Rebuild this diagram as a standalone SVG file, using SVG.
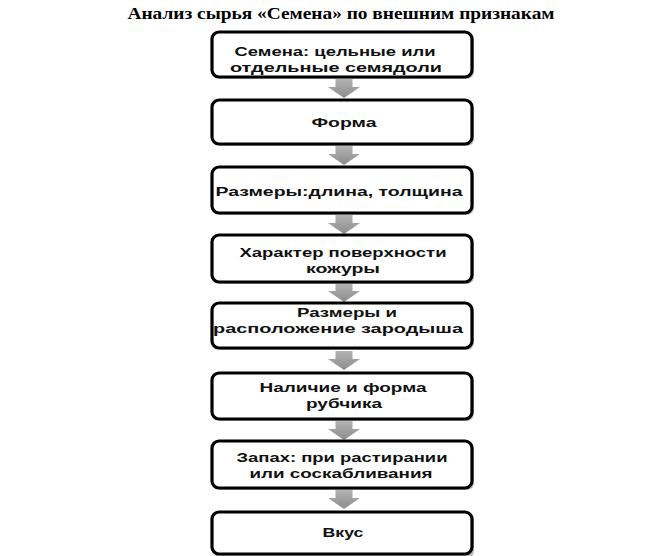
<svg xmlns="http://www.w3.org/2000/svg" width="651" height="556" viewBox="0 0 651 556">
<defs>
<linearGradient id="ag" x1="0" y1="0" x2="0" y2="1">
<stop offset="0" stop-color="#b4b4b4"/>
<stop offset="1" stop-color="#8c8c8c"/>
</linearGradient>
<path id="arr" d="M-8.5,0 H8.5 V8 H16 L0,19 L-16,8 H-8.5 Z" fill="url(#ag)"/>
</defs>
<style>
.box{fill:#fff;stroke:#000;stroke-width:3.2}
.sh{fill:#bdbdbd}
.t{font-family:"Liberation Sans",Arial,sans-serif;font-weight:bold;font-size:13.4px;fill:#111;text-anchor:middle}
.title{font-family:"Liberation Serif","Times New Roman",serif;font-weight:bold;font-size:16px;fill:#000;text-anchor:middle}
</style>
<rect width="651" height="556" fill="#fff"/>
<text class="title" x="341" y="19" textLength="427" lengthAdjust="spacingAndGlyphs">Анализ сырья «Семена» по внешним признакам</text>
<g id="connectors">
<use href="#arr" x="344" y="79"/>
<use href="#arr" x="344" y="146"/>
<use href="#arr" x="344" y="215"/>
<use href="#arr" x="344" y="283"/>
<use href="#arr" x="344" y="351"/>
<use href="#arr" x="344" y="421"/>
<use href="#arr" x="344" y="490"/>
</g>
<g id="n1">
<rect class="sh" x="214" y="34" width="260" height="45" rx="7"/>
<rect class="box" x="212" y="32" width="260" height="45" rx="7"/>
<text class="t" x="335" y="56" textLength="201" lengthAdjust="spacingAndGlyphs">Семена: цельные или</text>
<text class="t" x="336" y="71.5" textLength="212" lengthAdjust="spacingAndGlyphs">отдельные семядоли</text>
</g>
<g id="n2">
<rect class="sh" x="214" y="102" width="260" height="44" rx="7"/>
<rect class="box" x="212" y="100" width="260" height="44" rx="7"/>
<text class="t" x="344" y="127" textLength="65" lengthAdjust="spacingAndGlyphs">Форма</text>
</g>
<g id="n3">
<rect class="sh" x="214" y="169" width="260" height="46" rx="7"/>
<rect class="box" x="212" y="167" width="260" height="46" rx="7"/>
<text class="t" x="339" y="196" textLength="247" lengthAdjust="spacingAndGlyphs">Размеры:длина, толщина</text>
</g>
<g id="n4">
<rect class="sh" x="214" y="237" width="260" height="47" rx="7"/>
<rect class="box" x="212" y="235" width="260" height="47" rx="7"/>
<text class="t" x="343" y="257" textLength="207" lengthAdjust="spacingAndGlyphs">Характер поверхности</text>
<text class="t" x="343" y="272.5" textLength="74" lengthAdjust="spacingAndGlyphs">кожуры</text>
</g>
<g id="n5">
<rect class="sh" x="214" y="305" width="260" height="45" rx="7"/>
<rect class="box" x="212" y="303" width="260" height="45" rx="7"/>
<text class="t" x="347" y="317" textLength="100" lengthAdjust="spacingAndGlyphs">Размеры и</text>
<text class="t" x="338" y="333" textLength="250" lengthAdjust="spacingAndGlyphs">расположение зародыша</text>
</g>
<g id="n6">
<rect class="sh" x="214" y="375" width="260" height="46" rx="7"/>
<rect class="box" x="212" y="373" width="260" height="46" rx="7"/>
<text class="t" x="343" y="392" textLength="167" lengthAdjust="spacingAndGlyphs">Наличие и форма</text>
<text class="t" x="344" y="407.5" textLength="76" lengthAdjust="spacingAndGlyphs">рубчика</text>
</g>
<g id="n7">
<rect class="sh" x="214" y="443" width="260" height="47" rx="7"/>
<rect class="box" x="212" y="441" width="260" height="47" rx="7"/>
<text class="t" x="342" y="462" textLength="211" lengthAdjust="spacingAndGlyphs">Запах: при растирании</text>
<text class="t" x="341" y="477.5" textLength="183" lengthAdjust="spacingAndGlyphs">или соскабливания</text>
</g>
<g id="n8">
<rect class="sh" x="214" y="514" width="260" height="44" rx="7"/>
<rect class="box" x="212" y="512" width="260" height="42" rx="7"/>
<text class="t" x="343" y="537" textLength="41" lengthAdjust="spacingAndGlyphs">Вкус</text>
</g>
</svg>
